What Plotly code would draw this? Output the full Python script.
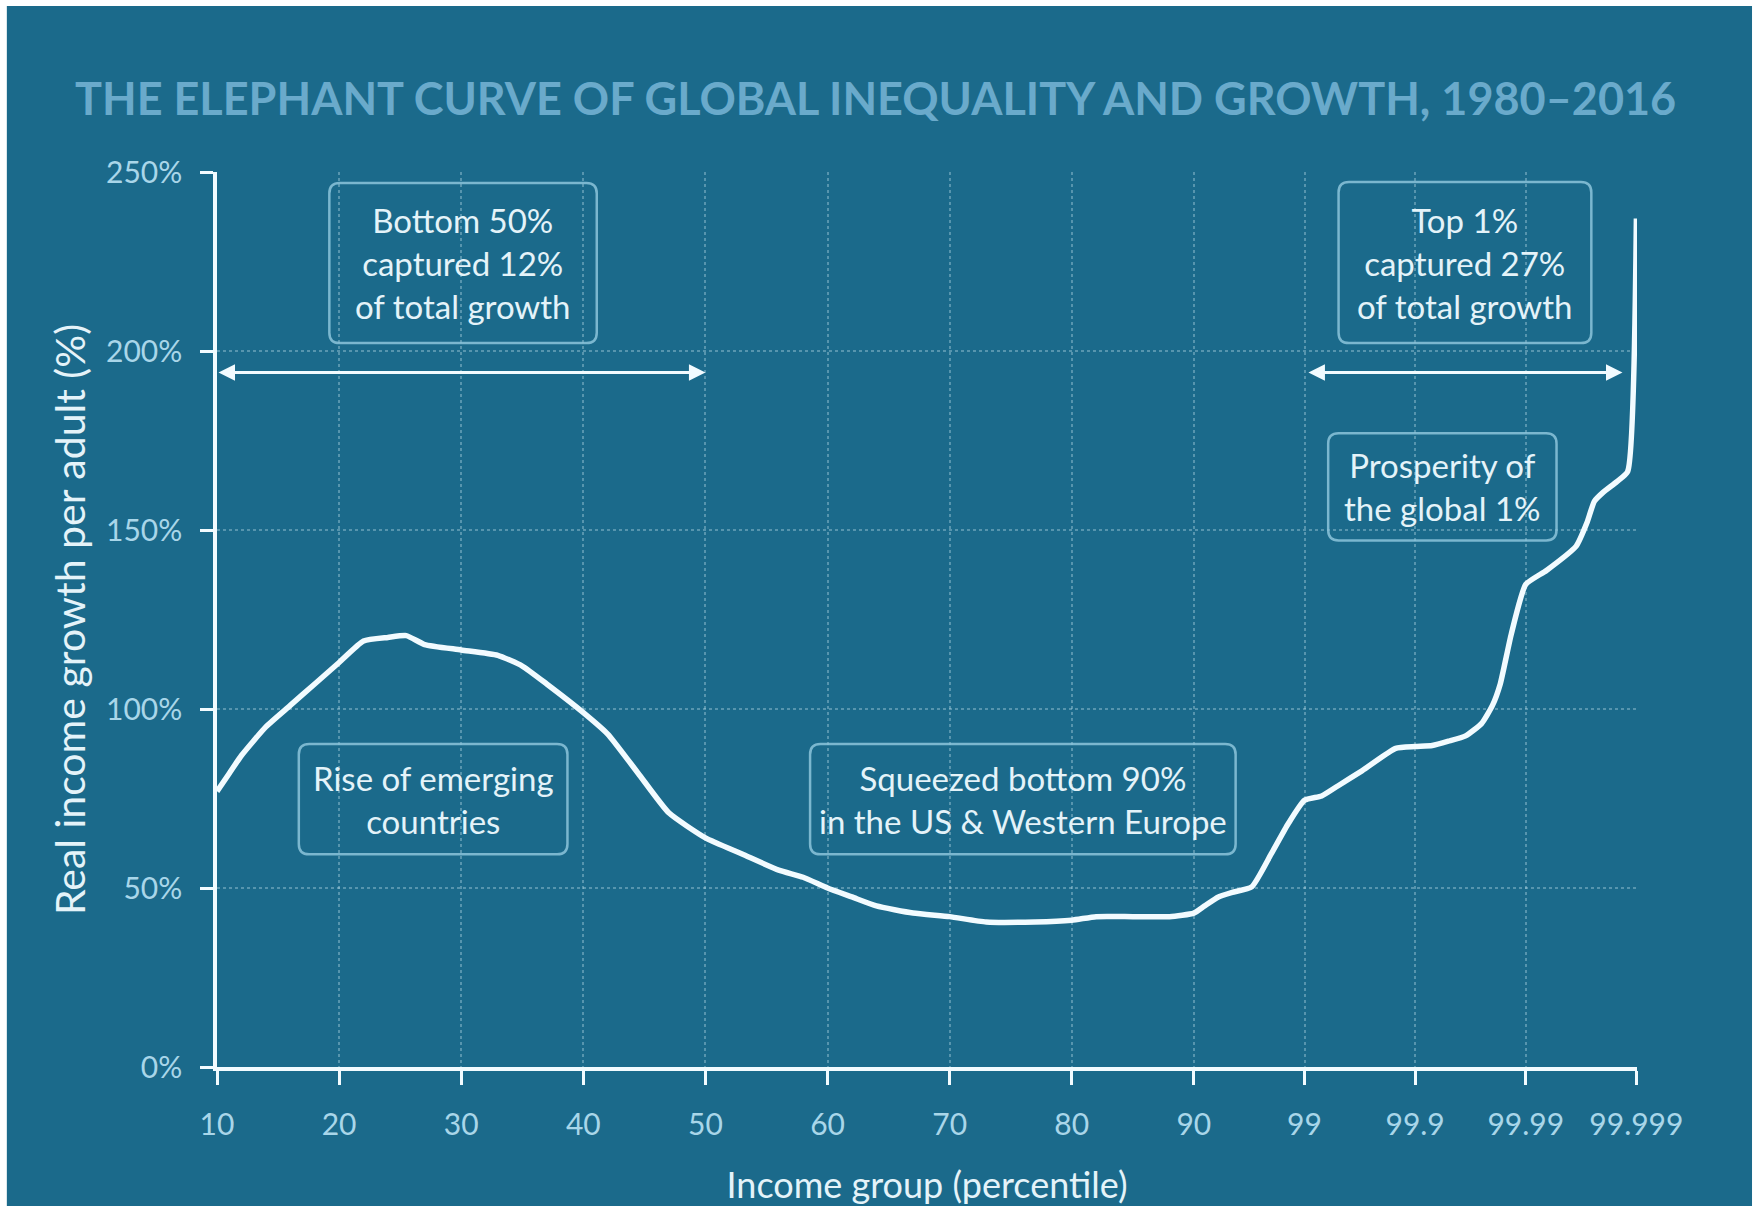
import math
import plotly.graph_objects as go

# Income percentile (start of group) and real income growth per adult, 1980-2016 (%)
percentiles = [
    10, 11, 12, 14, 16, 18, 20, 22, 24, 25.5, 27, 30, 33, 35, 37, 40, 42, 44.5, 47,
    50, 53, 56, 58, 60, 62, 64, 67, 70, 73, 77, 80, 82, 85, 88, 90, 92, 94, 95.5,
    97, 98, 98.6, 99, 99.3, 99.5, 99.7, 99.85, 99.9, 99.93, 99.95, 99.965, 99.975,
    99.98, 99.983, 99.9865, 99.99, 99.9935, 99.9965, 99.9972, 99.9976, 99.998,
    99.9985, 99.9988, 99.999,
]
growth = [
    77, 82, 87, 95, 101, 107, 113, 119, 120, 120.5, 118, 116.5, 115, 112, 107, 99,
    93, 82, 71, 64, 59.5, 55, 53, 50, 47.5, 45, 43, 42, 40.5, 40.5, 41, 42, 42, 42,
    43, 45, 47.5, 48.8, 50.3, 59.5, 68, 74.5, 75.7, 78.5, 82.8, 89, 89.5, 89.8, 91,
    92.5, 96, 101, 107, 121, 134.8, 138.7, 145.5, 152, 158, 160.5, 163.5, 166.3, 237,
]

tick_percentiles = [10, 20, 30, 40, 50, 60, 70, 80, 90, 99, 99.9, 99.99, 99.999]
tick_labels = ["10", "20", "30", "40", "50", "60", "70", "80", "90",
               "99", "99.9", "99.99", "99.999"]
y_ticks = [0, 50, 100, 150, 200, 250]
y_labels = ["0%", "50%", "100%", "150%", "200%", "250%"]

# Share of growth captured by the bottom 50% and the top 1%
bottom50_share = 12
top1_share = 27

# The axis is linear in steps of 10 up to the 90th percentile, then
# each further "9" (top 10%, 1%, 0.1%, ...) gets an equal step.
DECADE_STEP = 0.906


def axis_pos(p):
    if p <= 90:
        return (p - 10) / 10
    return 8 + DECADE_STEP * math.log10(10 / (100 - p))


BG = "#1b6a8b"
LINE = "#f2fbff"
TEXT = "#e4f3f9"
TICK_TEXT = "#a9d6e9"
BOX_EDGE = "rgba(140,196,219,0.85)"
FONT = "Lato"

x = [axis_pos(p) for p in percentiles]

fig = go.Figure()
fig.add_trace(go.Scatter(
    x=x, y=growth, mode="lines",
    line=dict(color=LINE, width=5.5, shape="spline", smoothing=0.5),
    hoverinfo="skip", showlegend=False,
))


def rounded_box(x0, x1, y0, y1, rx=0.085, ry=2.9):
    path = (
        f"M{x0 + rx},{y1} L{x1 - rx},{y1} Q{x1},{y1} {x1},{y1 - ry} "
        f"L{x1},{y0 + ry} Q{x1},{y0} {x1 - rx},{y0} "
        f"L{x0 + rx},{y0} Q{x0},{y0} {x0},{y0 + ry} "
        f"L{x0},{y1 - ry} Q{x0},{y1} {x0 + rx},{y1} Z"
    )
    return dict(type="path", path=path, xref="x", yref="y",
                line=dict(color=BOX_EDGE, width=2.5), layer="above")


# Labelled boxes: (x0, x1, y0, y1, text)
boxes = [
    (0.92, 3.11, 202.2, 246.9,
     f"Bottom 50%<br>captured {bottom50_share}%<br>of total growth"),
    (9.185, 11.255, 202.2, 247.2,
     f"Top 1%<br>captured {top1_share}%<br>of total growth"),
    (9.10, 10.97, 147.1, 177.0, "Prosperity of<br>the global 1%"),
    (0.67, 2.87, 59.4, 90.2, "Rise of emerging<br>countries"),
    (4.857, 8.342, 59.4, 90.2, "Squeezed bottom 90%<br>in the US &amp; Western Europe"),
]

shapes = [
    # blue card behind the whole chart
    dict(type="rect", xref="paper", yref="paper",
         x0=-0.148, x1=1.081, y0=-0.2, y1=1.1855,
         fillcolor=BG, line=dict(width=0), layer="below"),
]
annotations = []
for bx0, bx1, by0, by1, txt in boxes:
    shapes.append(rounded_box(bx0, bx1, by0, by1))
    annotations.append(dict(
        x=(bx0 + bx1) / 2, y=(by0 + by1) / 2, xref="x", yref="y",
        text=txt, showarrow=False, align="center",
        font=dict(family=FONT, size=33, color=TEXT),
        xanchor="center", yanchor="middle",
    ))

# Double-headed range arrows
arrow_y = 194
for a0, a1 in [(axis_pos(10), axis_pos(50)), (axis_pos(99) + 0.02, 11.51)]:
    annotations.append(dict(
        x=a1, y=arrow_y, ax=a0, ay=arrow_y,
        xref="x", yref="y", axref="x", ayref="y",
        text="", showarrow=True, arrowhead=2, arrowside="end+start",
        arrowsize=1.1, arrowwidth=3, arrowcolor=LINE, standoff=0, startstandoff=0,
    ))

fig.update_layout(
    width=1762, height=1206,
    margin=dict(l=217, r=125, t=172, b=139),
    paper_bgcolor="white",
    plot_bgcolor="rgba(0,0,0,0)",
    font=dict(family=FONT, color=TEXT),
    title=dict(
        text="THE ELEPHANT CURVE OF GLOBAL INEQUALITY AND GROWTH, 1980–2016",
        font=dict(family=FONT, size=45, color="#6aaacb", weight="bold"),
        x=75 / 1762, xanchor="left", xref="container",
        y=1 - 99 / 1206, yanchor="middle", yref="container",
    ),
    shapes=shapes,
    annotations=annotations,
    showlegend=False,
)

fig.update_xaxes(
    range=[0, axis_pos(99.999) + 0.005],
    automargin=False,
    tickmode="array",
    tickvals=[axis_pos(p) for p in tick_percentiles],
    ticktext=tick_labels,
    tickfont=dict(family=FONT, size=30, color=TICK_TEXT),
    ticks="outside", ticklen=14, tickwidth=3, tickcolor=LINE,
    ticklabelstandoff=14,
    showline=True, linecolor=LINE, linewidth=3.5,
    showgrid=True, gridcolor="rgba(200,230,242,0.35)", griddash="dot", gridwidth=1.5,
    zeroline=False,
    title=dict(text="Income group (percentile)",
               font=dict(family=FONT, size=36, color=TEXT), standoff=34),
)
fig.update_yaxes(
    range=[0, 250],
    automargin=False,
    tickmode="array", tickvals=y_ticks, ticktext=y_labels,
    tickfont=dict(family=FONT, size=30, color=TICK_TEXT),
    ticks="outside", ticklen=13, tickwidth=3, tickcolor=LINE,
    ticklabelstandoff=12,
    showline=True, linecolor=LINE, linewidth=3.5,
    showgrid=True, gridcolor="rgba(200,230,242,0.35)", griddash="dot", gridwidth=1.5,
    zeroline=False,
    title=dict(text="Real income growth per adult (%)",
               font=dict(family=FONT, size=41, color=TEXT), standoff=9),
)

fig.write_html("out.html")
